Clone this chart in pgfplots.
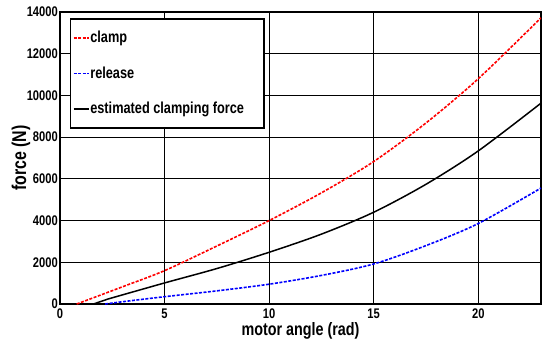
\documentclass[border=0pt]{standalone}
\usepackage{fontspec}
\setmainfont{Liberation Sans}[FakeStretch=0.8]
\usepackage{pgfplots}
\pgfplotsset{compat=1.18}
\begin{document}
\begin{tikzpicture}
\begin{axis}[
  name=ax, at={(0,0)}, anchor=south west,
  scale only axis, width=481bp, height=292bp,
  xmin=0, xmax=23, ymin=0, ymax=14000,
  xtick={0,5,10,15,20}, ytick={0,2000,4000,6000,8000,10000,12000,14000},
  scaled y ticks=false,
  /pgf/number format/assume math mode=true,
  /pgf/number format/1000 sep={},
  tick label style={font=\fontsize{14}{14}\selectfont\bfseries},
  xticklabel style={inner sep=0pt, anchor=north, yshift=-5bp},
  yticklabel style={inner sep=0pt, anchor=east, xshift=-2bp},
  grid=major,
  major grid style={black, line width=0.8bp},
  axis line style={line width=1.6bp},
  tick style={black, line width=0.8bp},
  major tick length=3bp,
  xlabel={motor angle (rad)},
  ylabel={force (N)},
  xlabel style={font=\fontsize{18}{18}\selectfont\bfseries,
    at={(axis description cs:0.5,-0.0925)}, anchor=center},
  ylabel style={font=\fontsize{20}{20}\selectfont\bfseries,
    at={(axis description cs:-0.081,0.5)}, anchor=center},
  legend style={at={(rel axis cs:0.0208,0.979)}, anchor=north west,
    draw=black, line width=1.4bp,
    font=\fontsize{16}{16}\selectfont\bfseries,
    inner xsep=2bp, inner ysep=11.5bp, row sep=20.5bp,
    nodes={inner sep=1bp}},
  legend cell align=left,
  legend image code/.code={\draw[#1] (0bp,0bp) -- (15bp,0bp);},
]
\addplot[red, dash pattern=on 3bp off 1.5bp, line width=1.6bp, smooth] coordinates {
(0.8,0) (3,830) (5,1600) (7.5,2780) (10,4000) (12.5,5330) (15,6830)
(17.5,8680) (20,10800) (23,13720)};
\addlegendentry{clamp}
\addplot[blue, dash pattern=on 3bp off 1.5bp, line width=1.6bp, smooth] coordinates {
(2.16,0) (3,110) (5,350) (7.5,630) (10,950) (12.5,1370) (15,1920)
(17.5,2800) (20,3860) (23,5560)};
\addlegendentry{release}
\addplot[black, line width=1.5bp, smooth] coordinates {
(2.3,240) (5,1010) (7.5,1700) (10,2480) (12.5,3350) (15,4400)
(17.5,5740) (20,7340) (23,9630)};
\addlegendentry{estimated clamping force\rule{17bp}{0pt}}
\addplot[black, line width=1.5bp, forget plot] coordinates {(1.6,0) (2.3,240)};
\end{axis}
\pgfresetboundingbox
\path (ax.south west) ++(-60bp,-42bp) rectangle ([shift={(4bp,12bp)}]ax.north east);
\end{tikzpicture}
\end{document}
